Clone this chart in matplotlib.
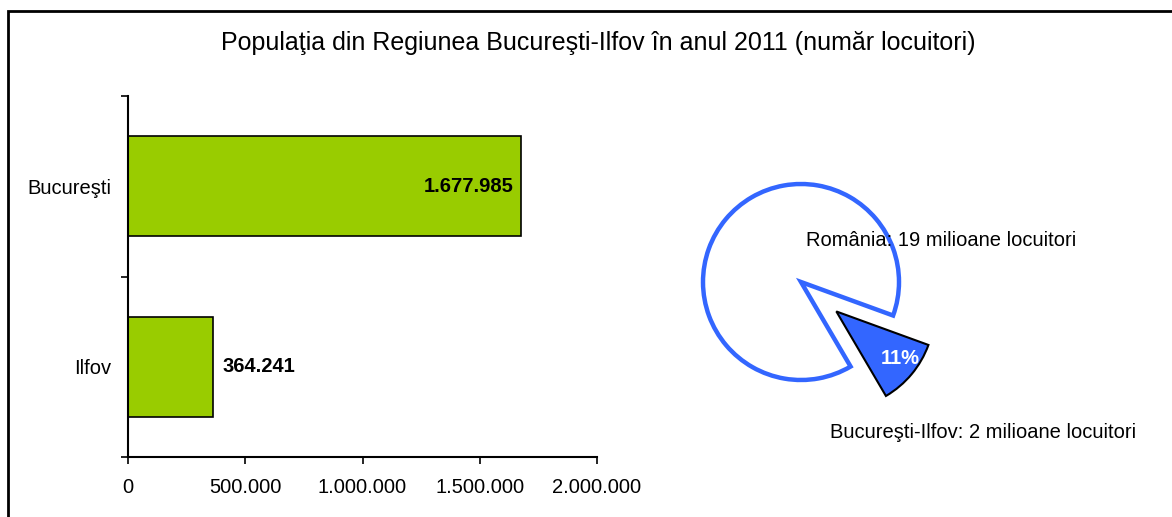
import matplotlib
matplotlib.use("Agg")
import matplotlib.pyplot as plt
from matplotlib.patches import Rectangle

plt.rcParams['font.family'] = ['Liberation Sans', 'DejaVu Sans']

# data
judete = ['Ilfov', 'Bucureşti']
populatie = [364241, 1677985]
x_ticks = [0, 500000, 1000000, 1500000, 2000000]

pie_labels = ['România: 19 milioane locuitori', 'Bucureşti-Ilfov: 2 milioane locuitori']
pie_shares = [89, 11]

title = 'Populaţia din Regiunea Bucureşti-Ilfov în anul 2011 (număr locuitori)'


def fmt(v):
    return f"{v:,}".replace(",", ".")


W, H = 1172, 517
FS = 14.5
fig = plt.figure(figsize=(W / 100, H / 100), dpi=100)

# border around the chart area
fig.patches.append(Rectangle((8 / W, -0.05), 1.2, 1 - 11 / H + 0.05, transform=fig.transFigure,
                             fill=False, edgecolor='black', linewidth=2))

fig.text(598 / W, 1 - 43 / H, title, ha='center', va='center', fontsize=18)

# bar chart
ax = fig.add_axes([128 / W, 1 - 457 / H, (597 - 128) / W, (457 - 96) / H])
ypos = range(len(judete))
ax.barh(ypos, populatie, height=1 / 1.8, color='#99CC00', edgecolor='black', linewidth=1.2)
ax.set_ylim(-0.5, 1.5)
ax.set_xlim(0, 2000000)
ax.set_xticks(x_ticks)
ax.set_xticklabels([fmt(v) for v in x_ticks], fontsize=FS)
ax.set_yticks(list(ypos))
ax.set_yticklabels(judete, fontsize=FS)
ax.set_yticks([-0.5, 0.5, 1.5], minor=True)
ax.tick_params(axis='y', which='major', length=0, pad=12)
ax.tick_params(axis='y', which='minor', length=5, width=1.2, direction='out')
ax.tick_params(axis='x', length=5, width=1.2, direction='out', pad=10)
for s in ['top', 'right']:
    ax.spines[s].set_visible(False)
for s in ['left', 'bottom']:
    ax.spines[s].set_linewidth(1.5)

for y, v in zip(ypos, populatie):
    if v > 1000000:
        ax.text(v - 35000, y, fmt(v), ha='right', va='center', fontsize=FS, fontweight='bold')
    else:
        ax.text(v + 38000, y, fmt(v), ha='left', va='center', fontsize=FS, fontweight='bold')

# pie chart, 1 unit = 100 px, centre at (801, 282)
cx, cy = 801, 282
x0, x1, ytop, ybot = 640, 1165, 120, 500
pax = fig.add_axes([x0 / W, 1 - ybot / H, (x1 - x0) / W, (ybot - ytop) / H])
wedges, _ = pax.pie(pie_shares, startangle=-20, explode=[0, 0.46], radius=0.98,
                    colors=['white', '#3366FF'])
wedges[0].set_edgecolor('#3366FF')
wedges[0].set_linewidth(3.2)
wedges[1].set_edgecolor('black')
wedges[1].set_linewidth(1.5)
pax.set_aspect('auto')
pax.set_xlim((x0 - cx) / 100, (x1 - cx) / 100)
pax.set_ylim((cy - ybot) / 100, (cy - ytop) / 100)
pax.axis('off')

pax.text(0.99, -0.76, f"{pie_shares[1]}%", color='white', fontsize=FS, fontweight='bold',
         ha='center', va='center')
pax.text(0.05, 0.42, pie_labels[0], ha='left', va='center', fontsize=FS)
pax.text(0.29, -1.50, pie_labels[1], ha='left', va='center', fontsize=FS)

fig.savefig('out.png', dpi=100)
